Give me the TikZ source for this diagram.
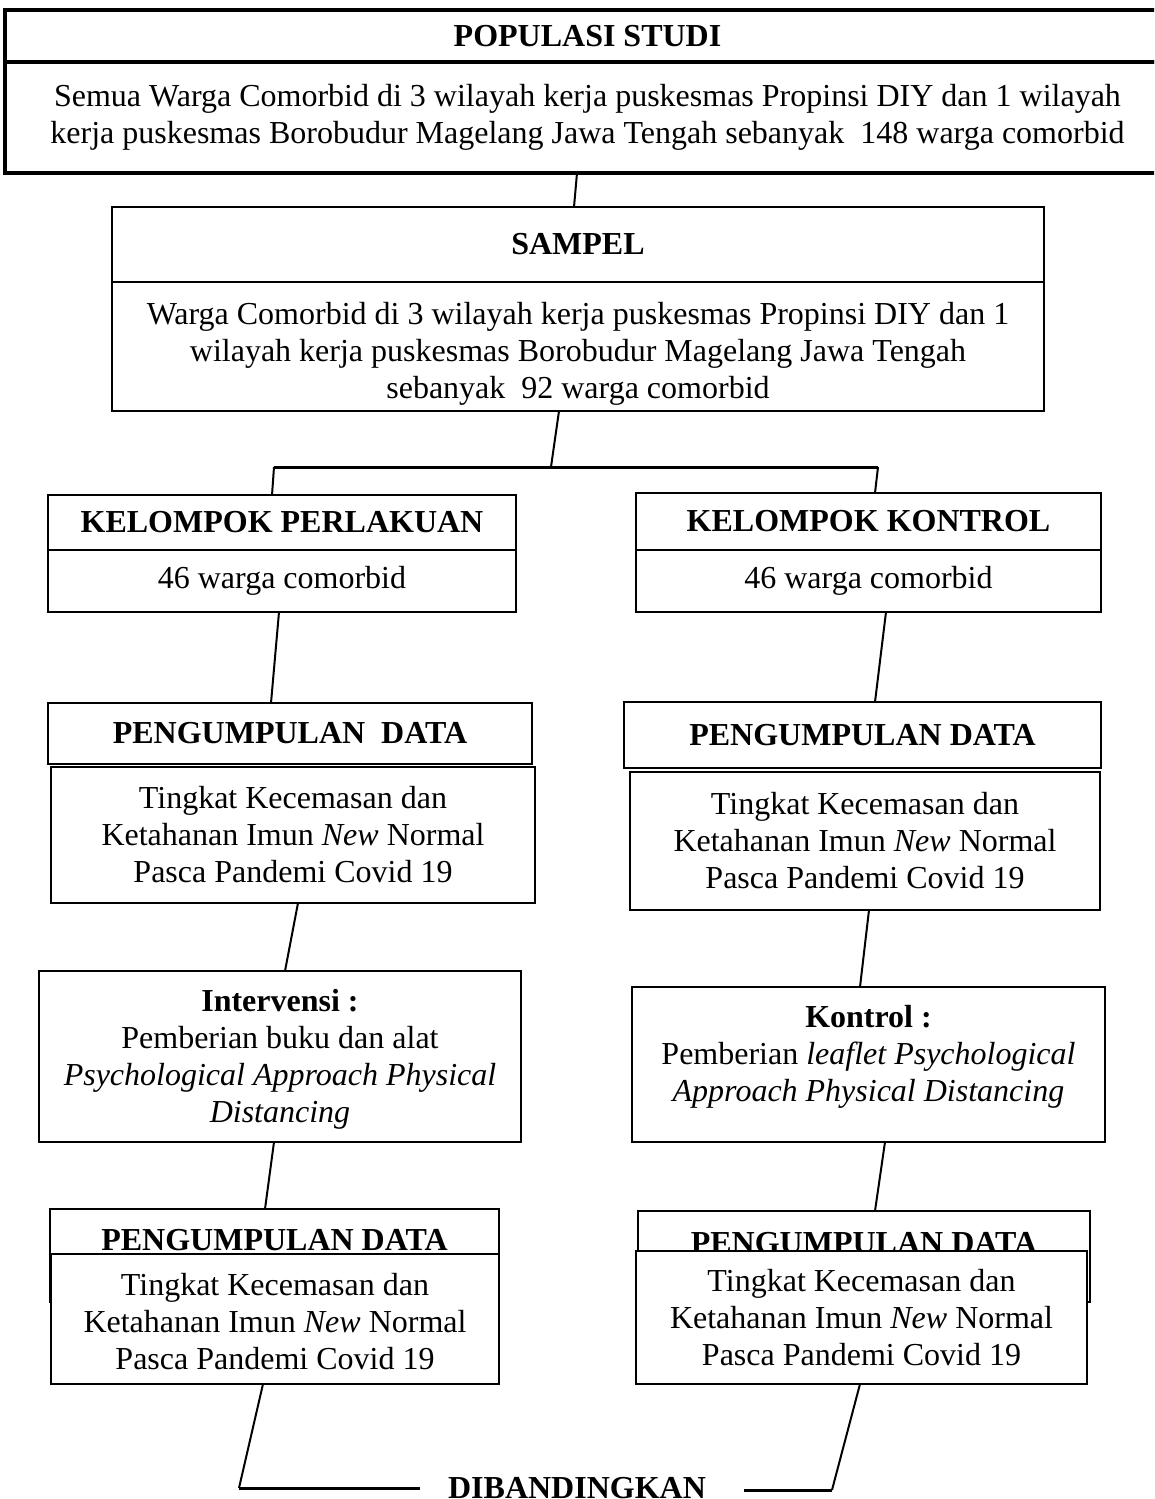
\documentclass[tikz,border=0pt]{standalone}
\usepackage{fontspec}
\setmainfont{Liberation Serif}
\begin{document}
\begin{tikzpicture}[x=1pt,y=-1pt,
  every node/.style={font=\fontsize{32}{37}\selectfont},
  box/.style={draw, line width=2.8pt, inner sep=0pt, outer sep=0pt, align=center},
  wbox/.style={box, fill=white},
  txt/.style={align=center, inner sep=0pt},
  conn/.style={line width=2pt},
  thick line/.style={line width=3pt}]
\useasboundingbox (0,0) rectangle (1154,1499);
\clip (0,0) rectangle (1154,1499);

% Populasi
\node[box, line width=3.5pt, minimum width=1165pt, minimum height=52pt] (popH) at (587.5,36) {\textbf{POPULASI STUDI}};
\node[box, line width=3.5pt, minimum width=1165pt, minimum height=111pt] (popB) at (587.5,117.5)
  {Semua Warga Comorbid di 3 wilayah kerja puskesmas Propinsi DIY dan 1 wilayah\\
   kerja puskesmas Borobudur Magelang Jawa Tengah sebanyak \ 148 warga comorbid};

% Sampel
\node[box, minimum width=932pt, minimum height=75pt] (samH) at (578,244.5) {\textbf{SAMPEL}};
\node[box, minimum width=932pt, minimum height=129pt] (samB) at (578,346.5) {};
\node[txt] (samT) at (578,354)
  {Warga Comorbid di 3 wilayah kerja puskesmas Propinsi DIY dan 1\\
   wilayah kerja puskesmas Borobudur Magelang Jawa Tengah\\
   sebanyak \ 92 warga comorbid};

% Kelompok
\node[box, minimum width=468pt, minimum height=55pt] (kpH) at (282,522.5) {\textbf{KELOMPOK PERLAKUAN}};
\node[box, minimum width=468pt, minimum height=62pt] (kpB) at (282,581) {46 warga comorbid};
\node[box, minimum width=465pt, minimum height=57pt] (kkH) at (868.5,521.5) {\textbf{KELOMPOK KONTROL}};
\node[box, minimum width=465pt, minimum height=62pt] (kkB) at (868.5,581) {46 warga comorbid};

% Pengumpulan data 1
\node[box, minimum width=484pt, minimum height=61pt] (pd1H) at (290,733.5) {\textbf{PENGUMPULAN\ \ DATA}};
\node[box, minimum width=484pt, minimum height=136pt] (pd1B) at (293,835)
  {Tingkat Kecemasan dan\\ Ketahanan Imun \textit{New} Normal\\ Pasca Pandemi Covid 19};
\node[box, minimum width=477pt, minimum height=66pt] (pd2H) at (862.5,735) {\textbf{PENGUMPULAN DATA}};
\node[box, minimum width=470pt, minimum height=138pt] (pd2B) at (865,841)
  {Tingkat Kecemasan dan\\ Ketahanan Imun \textit{New} Normal\\ Pasca Pandemi Covid 19};

% Intervensi / Kontrol
\node[box, minimum width=482pt, minimum height=171pt] (int) at (280,1056.5) {};
\node[txt] (intT) at (280,1059.5)
  {\textbf{Intervensi :}\\ Pemberian buku dan alat\\ \textit{Psychological Approach Physical}\\ \textit{Distancing}};
\node[box, minimum width=473pt, minimum height=155pt] (kon) at (868.5,1064.5) {};
\node[txt] (konT) at (868.5,1057)
  {\textbf{Kontrol :}\\ Pemberian \textit{leaflet Psychological}\\ \textit{Approach Physical Distancing}};

% Pengumpulan data 2
\node[box, minimum width=449pt, minimum height=93pt] (pd3H) at (274.5,1255.5) {};
\node[anchor=base, inner sep=0pt] (pd3T) at (274.5,1250) {\textbf{PENGUMPULAN DATA}};
\node[wbox, minimum width=448pt, minimum height=130pt] (pd3B) at (275,1319) {};
\node[txt] (pd3BT) at (275,1322)
  {Tingkat Kecemasan dan\\ Ketahanan Imun \textit{New} Normal\\ Pasca Pandemi Covid 19};
\node[box, minimum width=452pt, minimum height=91pt] (pd4H) at (864,1256.5) {};
\node[anchor=base, inner sep=0pt] (pd4T) at (864,1253) {\textbf{PENGUMPULAN DATA}};
\node[wbox, minimum width=451pt, minimum height=133pt] (pd4B) at (861.5,1317.5)
  {Tingkat Kecemasan dan\\ Ketahanan Imun \textit{New} Normal\\ Pasca Pandemi Covid 19};

% Dibandingkan
\node[anchor=base, inner sep=0pt] (dib) at (577,1498) {\textbf{DIBANDINGKAN}};

% connector points
\coordinate (jn) at (551,467);
\coordinate (jl) at (274,467);
\coordinate (jr) at (878,467);
\coordinate (bl) at (239,1488);
\coordinate (bl2) at (420,1488);
\coordinate (br) at (832,1490);
\coordinate (br2) at (744,1490);

% connectors
\draw[conn] ([xshift=-10.5pt]popB.south) -- ([xshift=-4pt]samH.north);
\draw[conn] ([xshift=-19pt]samB.south) -- (jn);
\draw[thick line] (jl) -- (jr);
\draw[conn] (jl) -- ([xshift=-10pt]kpH.north);
\draw[conn] (jr) -- ([xshift=6.5pt]kkH.north);
\draw[conn] ([xshift=-3pt]kpB.south) -- ([xshift=-19pt]pd1H.north);
\draw[conn] ([xshift=17.5pt]kkB.south) -- ([xshift=12.5pt]pd2H.north);
\draw[conn] ([xshift=5pt]pd1B.south) -- ([xshift=5pt]int.north);
\draw[conn] ([xshift=4pt]pd2B.south) -- ([xshift=-8.5pt]kon.north);
\draw[conn] ([xshift=-6pt]int.south) -- ([xshift=-9.5pt]pd3H.north);
\draw[conn] ([xshift=16.5pt]kon.south) -- ([xshift=11pt]pd4H.north);
\draw[conn] ([xshift=-12pt]pd3B.south) -- (bl);
\draw[thick line] (bl) -- (bl2);
\draw[conn] ([xshift=-1.5pt]pd4B.south) -- (br);
\draw[thick line] (br) -- (br2);
\end{tikzpicture}
\end{document}
